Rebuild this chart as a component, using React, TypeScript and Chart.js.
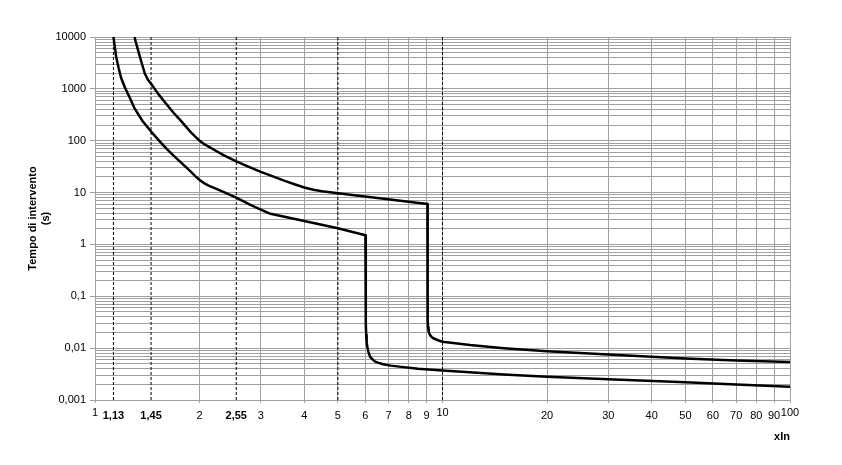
import React, { useEffect, useRef } from 'react';
import { Chart, registerables } from 'chart.js';

Chart.register(...registerables);

const xTickValues = [1, 1.13, 1.45, 2, 2.55, 3, 4, 5, 6, 7, 8, 9, 10, 20, 30, 40, 50, 60, 70, 80, 90, 100];
const boldXTicks = [1.13, 1.45, 2.55];
const raisedXTicks = [1, 10, 100];
const dashedX = [1.13, 1.45, 2.55, 5, 10];
const yDecades = [0.001, 0.01, 0.1, 1, 10, 100, 1000, 10000];
const yDecadeLabels = ['0,001', '0,01', '0,1', '1', '10', '100', '1000', '10000'];

const lowerX = [1.13, 1.14, 1.15, 1.17, 1.19, 1.22, 1.25, 1.3, 1.37, 1.45, 1.52, 1.6, 1.68, 1.76, 1.88, 1.94, 2.0, 2.06, 2.13, 2.2, 2.35, 2.55, 2.8, 3.0, 3.2, 5.0, 6.0, 6.01, 6.02, 6.03, 6.05, 6.08, 6.12, 6.19, 6.3, 6.4, 6.55, 6.75, 7.1, 7.5, 8.5, 10, 15, 20, 30, 50, 70, 100];
const lowerY = [10000, 6500, 4200, 2500, 1600, 1050, 750, 420, 240, 150, 105, 72, 52, 39, 26, 21, 17.5, 15.2, 13.5, 12.3, 10.2, 8, 5.8, 4.7, 3.9, 2.05, 1.5, 0.2, 0.03, 0.018, 0.013, 0.0105, 0.0085, 0.0068, 0.006, 0.0055, 0.0052, 0.0049, 0.0046, 0.0044, 0.004, 0.0037, 0.0031, 0.0028, 0.0025, 0.0022, 0.002, 0.0018];

const upperX = [1.3, 1.31, 1.33, 1.36, 1.39, 1.42, 1.45, 1.52, 1.6, 1.68, 1.76, 1.88, 1.94, 2.0, 2.06, 2.13, 2.2, 2.35, 2.55, 2.75, 3.0, 3.25, 3.5, 3.75, 4.0, 4.25, 4.5, 5.0, 9.05, 9.06, 9.07, 9.09, 9.12, 9.2, 9.3, 9.41, 9.7, 10, 12, 15, 20, 30, 50, 70, 100];
const upperY = [10000, 8000, 5600, 3300, 2000, 1500, 1250, 800, 520, 350, 250, 150, 121, 100, 86, 76, 67, 52, 40, 32, 25, 20.5, 17, 14.5, 12.5, 11.3, 10.6, 9.7, 6.0, 0.3, 0.035, 0.025, 0.021, 0.018, 0.0165, 0.0155, 0.0142, 0.0133, 0.0115, 0.01, 0.0087, 0.0075, 0.0063, 0.0058, 0.0054];

const FONT = "'Liberation Sans', Arial, sans-serif";
const GRID = '#a0a0a0';

export default function App() {
  const ref = useRef<HTMLCanvasElement>(null);

  useEffect(() => {
    document.body.style.margin = '0';
    const yTickValues: number[] = [];
    yDecades.forEach((d, i) => {
      if (i < yDecades.length - 1) {
        for (let m = 1; m <= 9; m++) yTickValues.push(+(d * m).toPrecision(6));
      } else {
        yTickValues.push(d);
      }
    });
    const decadeIndex = (v: number) => yDecades.findIndex((d) => Math.abs(v / d - 1) < 1e-6);
    const near = (arr: number[], v: number) => arr.some((a) => Math.abs(a - v) < 1e-6);

    const datasets: any[] = [
      ...dashedX.map((x) => ({
        data: [{ x, y: 0.001 }, { x, y: 10000 }],
        borderColor: '#000',
        borderWidth: 1,
        borderDash: [3, 2],
        pointRadius: 0,
        tension: 0,
      })),
      {
        data: lowerX.map((x, i) => ({ x, y: lowerY[i] })),
        borderColor: '#000',
        borderWidth: 2.5,
        pointRadius: 0,
        tension: 0,
        borderJoinStyle: 'round',
      },
      {
        data: upperX.map((x, i) => ({ x, y: upperY[i] })),
        borderColor: '#000',
        borderWidth: 2.5,
        pointRadius: 0,
        tension: 0,
        borderJoinStyle: 'round',
      },
    ];

    const chart = new Chart(ref.current as HTMLCanvasElement, {
      type: 'line',
      data: { datasets },
      options: {
        animation: false,
        responsive: false,
        plugins: { legend: { display: false }, tooltip: { enabled: false } },
        layout: { padding: { top: 37, right: 52, left: 0, bottom: 0 } },
        scales: {
          x: {
            type: 'logarithmic',
            min: 1,
            max: 100,
            afterBuildTicks: (s: any) => {
              s.ticks = xTickValues.map((v) => ({ value: v }));
            },
            afterFit: (s: any) => {
              s.height = 65;
            },
            ticks: {
              autoSkip: false,
              maxRotation: 0,
              minRotation: 0,
              padding: 6,
              color: '#000',
              callback: (v: any) => String(v).replace('.', ','),
              font: (ctx: any) => {
                const v = ctx.tick ? ctx.tick.value : 0;
                return {
                  family: FONT,
                  size: 11,
                  weight: near(boldXTicks, v) ? 'bold' : 'normal',
                  lineHeight: near(raisedXTicks, v) ? 0.73 : 1.2,
                };
              },
            },
            grid: {
              color: (ctx: any) => (ctx.tick && near(boldXTicks, ctx.tick.value) ? 'rgba(0,0,0,0)' : GRID),
              tickColor: (ctx: any) => (ctx.tick && near(boldXTicks, ctx.tick.value) ? 'rgba(0,0,0,0)' : GRID),
              tickLength: 3,
            },
            border: { color: GRID },
            title: {
              display: true,
              text: 'xIn',
              align: 'end',
              color: '#000',
              font: { family: FONT, size: 11, weight: 'bold' },
              padding: { top: 21.4, bottom: 21.4 },
            },
          },
          y: {
            type: 'logarithmic',
            min: 0.001,
            max: 10000,
            afterBuildTicks: (s: any) => {
              s.ticks = yTickValues.map((v) => ({ value: v }));
            },
            afterFit: (s: any) => {
              s.width = 95;
            },
            ticks: {
              autoSkip: false,
              padding: 4,
              color: '#000',
              font: { family: FONT, size: 11 },
              callback: (v: any) => {
                const i = decadeIndex(Number(v));
                return i >= 0 ? yDecadeLabels[i] : '';
              },
            },
            grid: {
              color: GRID,
              tickColor: (ctx: any) => (ctx.tick && decadeIndex(ctx.tick.value) >= 0 ? GRID : 'rgba(0,0,0,0)'),
              tickLength: 5,
            },
            border: { color: GRID },
            title: {
              display: true,
              text: ['Tempo di intervento', '(s)'],
              color: '#000',
              font: { family: FONT, size: 11, weight: 'bold' },
              padding: { top: 26.4, bottom: 0 },
            },
          },
        },
      } as any,
    });
    return () => chart.destroy();
  }, []);

  return (
    <div style={{ width: 842, height: 465 }}>
      <canvas ref={ref} width={842} height={465} />
    </div>
  );
}
